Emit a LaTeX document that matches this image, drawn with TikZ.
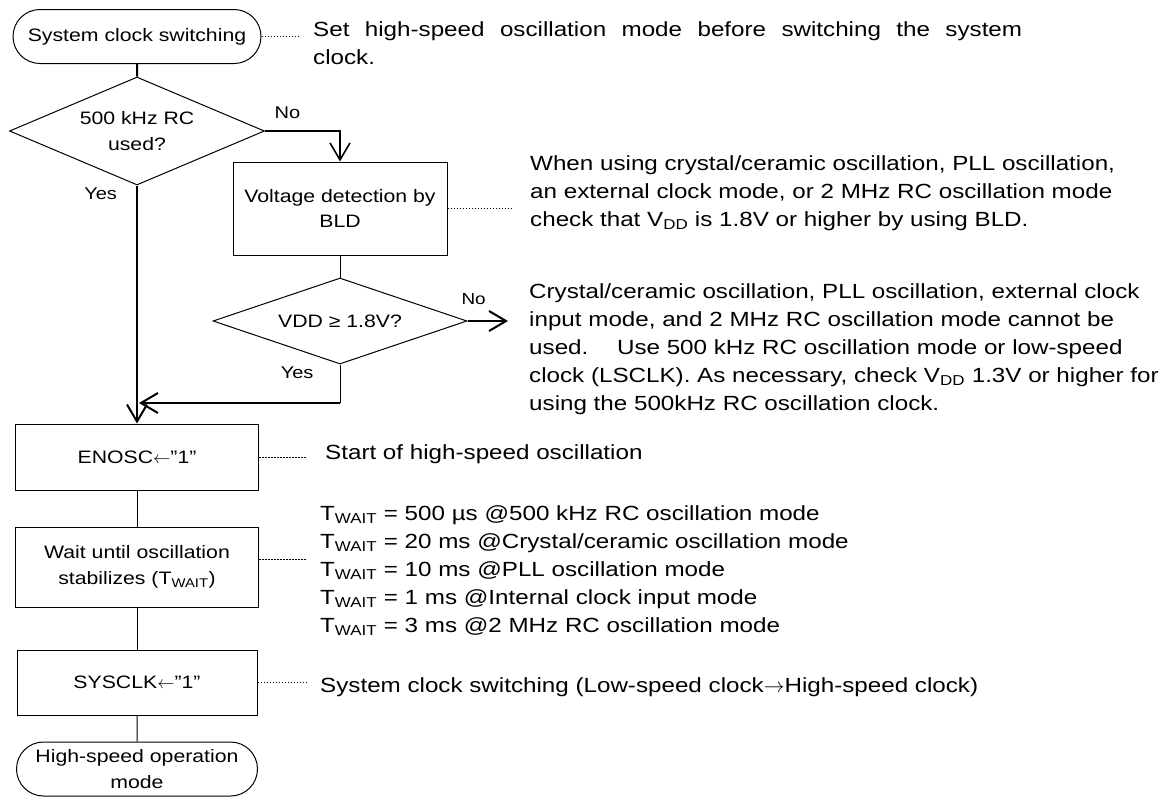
\documentclass[tikz,border=0pt]{standalone}
\usepackage{fontspec}
\setmainfont{Liberation Sans}[FakeStretch=1.18]
\usepackage{tikz}
\usetikzlibrary{shapes.geometric, shapes.misc, arrows.meta}
\newcommand{\boxfont}{\fontsize{18}{25.5}\selectfont}
\newcommand{\notefont}{\fontsize{20.5}{28}\selectfont}
\newcommand{\answerfont}{\fontsize{17}{20}\selectfont}
\tikzstyle{terminal} = [
    rounded rectangle,
    minimum width=248pt,
    minimum height=54pt,
    inner sep=0pt,
    align=center,
    draw=black,
    line width=1pt
]
\tikzstyle{process} = [
    rectangle,
    minimum width=243pt,
    minimum height=66pt,
    inner sep=0pt,
    align=center,
    draw=black,
    line width=1pt
]
\tikzstyle{decision} = [
    diamond,
    aspect=2.4,
    minimum width=255pt,
    minimum height=108pt,
    inner sep=0pt,
    align=center,
    draw=black,
    line width=1pt
]
\tikzstyle{arrow} = [
    line width=2pt,
    -{Straight Barb[length=17pt, width=20pt]},
    line join=miter
]
\tikzstyle{flow} = [line width=1pt]
\tikzstyle{thickline} = [line width=2pt]
\tikzstyle{leader} = [line width=0.8pt, dash pattern=on 1.5pt off 1.5pt]
\tikzstyle{note} = [font=\notefont, inner sep=0pt, align=left]
\tikzstyle{answer} = [font=\answerfont, inner sep=0pt]

\begin{document}
\begin{tikzpicture}[x=1pt, y=-1pt, node distance=95pt, font=\boxfont]

    \useasboundingbox (0,0) rectangle (1173,796);

    \node (start)    [terminal] at (137,36.5)                                   {System clock switching};
    \node (chkRC)    [decision, below of=start, node distance=94.5pt]           {500 kHz RC\\used?};
    \node (bld)      [process, below of=chkRC, xshift=203pt, node distance=77.5pt,
                      minimum width=214pt, minimum height=93pt]                 {Voltage detection by\\BLD};
    \node (chkVdd)   [decision, below of=bld, node distance=112.5pt, aspect=2.95,
                      minimum width=254pt, minimum height=86pt]                 {VDD ≥ 1.8V?};
    \node (enosc)    [process, below of=chkRC, node distance=326pt]             {ENOSC$\leftarrow$”1”};
    \node (wait)     [process, below of=enosc, node distance=110pt, minimum height=80pt]
                                                                                {Wait until oscillation\\stabilizes (T\textsubscript{WAIT})};
    \node (sysclk)   [process, below of=wait, node distance=115.5pt,
                      minimum width=240pt, minimum height=65pt]                 {SYSCLK$\leftarrow$”1”};
    \node (finish)   [terminal, below of=sysclk, node distance=86.5pt, minimum width=241pt]
                                                                                {High-speed operation\\mode};

    % notes on the right
    \node (noteStart)  [note, anchor=north west, text width=709pt, align=justify] at (313,21)
        {Set high-speed oscillation mode before switching the system\linebreak clock.};
    \node (noteBld)    [note, anchor=north west] at (530,155)
        {When using crystal/ceramic oscillation, PLL oscillation,\\
         an external clock mode, or 2 MHz RC oscillation mode\\
         check that V\textsubscript{DD} is 1.8V or higher by using BLD.};
    \node (noteVdd)    [note, anchor=north west] at (529,283)
        {Crystal/ceramic oscillation, PLL oscillation, external clock\\
         input mode, and 2 MHz RC oscillation mode cannot be\\
         used.\hspace{1.4em}Use 500 kHz RC oscillation mode or low-speed\\
         clock (LSCLK). As necessary, check V\textsubscript{DD} 1.3V or higher for\\
         using the 500kHz RC oscillation clock.};
    \node (noteEnosc)  [note, anchor=base west] at (325,459)
        {Start of high-speed oscillation};
    \node (noteWait)   [note, anchor=north west] at (320,505)
        {T\textsubscript{WAIT} = 500 µs @500 kHz RC oscillation mode\\
         T\textsubscript{WAIT} = 20 ms @Crystal/ceramic oscillation mode\\
         T\textsubscript{WAIT} = 10 ms @PLL oscillation mode\\
         T\textsubscript{WAIT} = 1 ms @Internal clock input mode\\
         T\textsubscript{WAIT} = 3 ms @2 MHz RC oscillation mode};
    \node (noteSysclk) [note, anchor=base west] at (320,692)
        {System clock switching (Low-speed clock$\rightarrow$High-speed clock)};

    \coordinate (fail)  at (508,321);
    \coordinate (bend)  at (340,403);
    \coordinate (merge) at (139,403);

    \draw [thickline] (start) -- (chkRC);
    \draw [arrow, line width=1.6pt] (chkRC.east) -| node[answer, pos=0.15, above=11.5pt] {No} (bld.north);
    \draw [arrow] (chkRC.south) -- node[answer, pos=0.035, left=19pt] {Yes} (enosc.north);
    \draw [flow] (bld) -- (chkVdd);
    \draw [arrow] (chkVdd.east) -- node[answer, pos=0.15, above=15pt, font=\fontsize{16}{18}\selectfont] {No} (fail);
    \draw [flow] (chkVdd.south) -- node[answer, pos=0.22, left=26pt] {Yes} (bend);
    \draw [arrow] (bend) -- (merge);
    \draw [flow] (enosc) -- (wait);
    \draw [flow] (wait) -- (sysclk);
    \draw [flow] (sysclk) -- (finish);

    % dotted leaders
    \draw [leader, shorten >=15pt] (start.east) -- (start.east -| noteStart.west);
    \draw [leader, shorten >=18pt] (bld.east) -- (bld.east -| noteBld.west);
    \draw [leader, shorten >=18pt] (enosc.east) -- (enosc.east -| noteEnosc.west);
    \draw [leader, shorten >=13pt] ([yshift=8pt]wait.east) -- ([yshift=8pt]wait.east -| noteWait.west);
    \draw [leader, shorten >=13pt] (sysclk.east) -- (sysclk.east -| noteSysclk.west);

\end{tikzpicture}
\end{document}
